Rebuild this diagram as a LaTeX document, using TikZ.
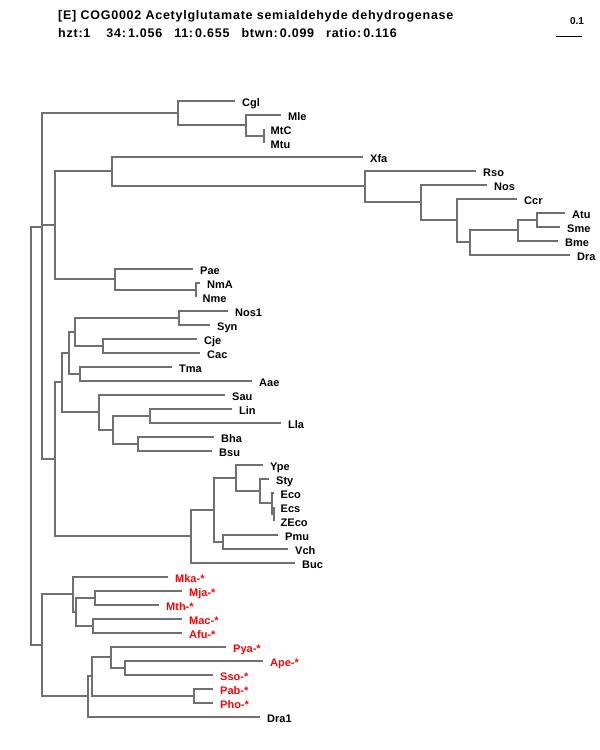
\documentclass[tikz,border=0pt]{standalone}
\usepackage{fontspec}
\setmainfont{Liberation Sans}
\newfontfamily\hdrfont{Liberation Sans}[LetterSpace=6]
\usetikzlibrary{positioning}
\definecolor{branch}{RGB}{112,112,112}
\begin{document}
\begin{tikzpicture}[
    x=1pt, y=-1pt,
    br/.style={draw=branch, line width=2pt},
    leaf/.style={anchor=west, inner xsep=7pt, inner ysep=0pt, text height=12pt, text depth=1pt, font=\fontsize{11}{13}\selectfont\bfseries},
    aleaf/.style={leaf, text=red},
    hdr/.style={anchor=base west, inner sep=0pt, font=\fontsize{12.5}{14}\hdrfont\bfseries},
]
\useasboundingbox (0,0) rectangle (600,750);
% === Header ===
\node[hdr] (title) at (58,19.5) {[E] COG0002 Acetylglutamate semialdehyde dehydrogenase};
\node[hdr] (stats) at (58,37) {hzt:1\hspace{16pt}34:\,1.056\hspace{12pt}11:\,0.655\hspace{12pt}btwn:\,0.099\hspace{12pt}ratio:\,0.116};
% scale bar
\node[hdr, anchor=center, font=\fontsize{10}{12}\selectfont\bfseries] (scale) at (577,21) {0.1};
\coordinate (sbl) at (556,36.5);
\coordinate (sbr) at (582,36.5);
\draw[line width=1pt] (sbl) -- (sbr);
% === Leaves ===
\foreach \n/\x/\i/\t in {cgl/235/0/Cgl, mle/281/1/Mle, mtc/263.5/2/MtC, mtu/263.5/3/Mtu,
    xfa/363/4/Xfa, rso/476/5/Rso, nos/487/6/Nos, ccr/517/7/Ccr, atu/565/8/Atu,
    sme/560/9/Sme, bme/558/10/Bme, dra/570/11/Dra, pae/193/12/Pae, nma/200/13/NmA,
    nme/195.5/14/Nme, nosa/228/15/Nos1, syn/210/16/Syn, cje/197/17/Cje, cac/200/18/Cac,
    tma/172/19/Tma, aae/252/20/Aae, sau/225/21/Sau, lin/232/22/Lin, lla/281/23/Lla,
    bha/214/24/Bha, bsu/212/25/Bsu, ype/263/26/Ype, sty/269/27/Sty, eco/273.5/28/Eco,
    ecs/273.5/29/Ecs, zeco/273.5/30/ZEco, pmu/278/31/Pmu, vch/288/32/Vch, buc/295/33/Buc,
    dra1/260/44/Dra1} {
    \node[leaf] (\n) at (\x,{100.5+14*\i}) {\t};
}
\foreach \n/\x/\i/\t in {mka/168/34/Mka, mja/182/35/Mja, mth/159/36/Mth, mac/182/37/Mac,
    afu/182/38/Afu, pya/226/39/Pya, ape/263/40/Ape, sso/213/41/Sso, pab/213/42/Pab,
    pho/213/43/Pho} {
    \node[aleaf] (\n) at (\x,{100.5+14*\i}) {\t-*};
}
% === Internal nodes ===
\foreach \n/\x/\y in {nmt/263.5/135.5, nmle/245.5/124.5, ncgl/177.5/112.5,
    natu/536.5/219.5, nbme/517.5/229.5, ndra/469.5/241.5, nccr/456.5/219.5, nnos/420.5/201.5,
    nrso/364.5/185.5, nxfa/111.5/170.5, nnm/195.5/289.5, npae/114.5/278.5, nalpha/54.5/224.5,
    nnosa/178.5/317.5, ncje/102.5/345.5, ncyano/74.5/331.5, ntma/79.5/373.5, naq/68.5/352.5,
    nlin/149.5/415.5, nbha/137.5/443.5, nbac/112.5/429.5, nfirm/98.5/411.5, ngram/61.5/381.5,
    necs/273.5/513.5, neco/271.5/502.5, nsty/259.5/490.5, nype/235.5/477.5, npmu/222.5/541.5,
    ngamma/213.5/509.5, nbuc/190.5/535.5, nlow/54.5/458.5, nq/42/341.5, np/41.5/226.5,
    nmja/94.5/597.5, nmac/92.5/625.5, neury2/75.5/611.5, neury/72.5/593.5, napes/124.5/667.5,
    npya/110.5/656.5, npab/193.5/695.5, ncren2/91.5/675.5, ncren/87.5/695.5, narch/41.5/644.5,
    nroot/30.5/436} {
    \coordinate (\n) at (\x,\y);
}
% === Branches ===
\foreach \p/\a/\b in {nmt/mtc.west/mtu.west, nmle/mle.west/nmt, ncgl/cgl.west/nmle,
    natu/atu.west/sme.west, nbme/natu/bme.west, ndra/nbme/dra.west, nccr/ccr.west/ndra,
    nnos/nos.west/nccr, nrso/rso.west/nnos, nxfa/xfa.west/nrso, nnm/nma.west/nme.west,
    npae/pae.west/nnm, nalpha/nxfa/npae,
    nnosa/nosa.west/syn.west, ncje/cje.west/cac.west, ncyano/nnosa/ncje,
    ntma/tma.west/aae.west, naq/ncyano/ntma, nlin/lin.west/lla.west,
    nbha/bha.west/bsu.west, nbac/nlin/nbha, nfirm/sau.west/nbac, ngram/naq/nfirm,
    necs/ecs.west/zeco.west, neco/eco.west/necs, nsty/sty.west/neco, nype/ype.west/nsty,
    npmu/pmu.west/vch.west, ngamma/nype/npmu, nbuc/ngamma/buc.west, nlow/ngram/nbuc,
    nq/nalpha/nlow, np/ncgl/nq,
    nmja/mja.west/mth.west, nmac/mac.west/afu.west, neury2/nmja/nmac, neury/mka.west/neury2,
    napes/ape.west/sso.west, npya/pya.west/napes, npab/pab.west/pho.west,
    ncren2/npya/npab, ncren/ncren2/dra1.west, narch/neury/ncren, nroot/np/narch} {
    \draw[br] (\a) -| (\p) |- (\b);
}
\end{tikzpicture}
\end{document}
